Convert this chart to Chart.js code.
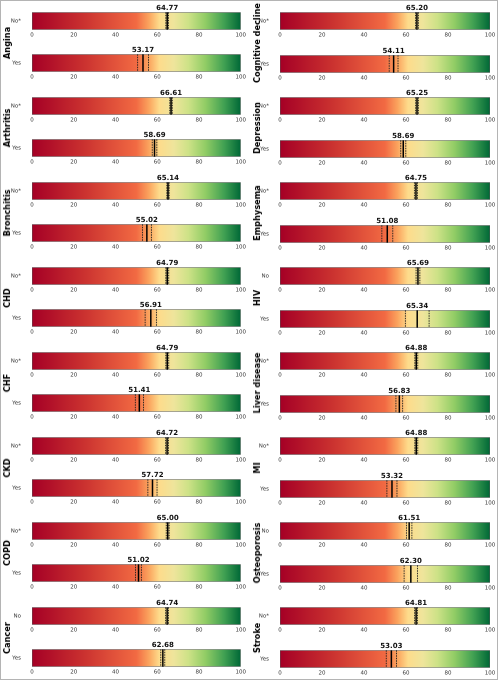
<!DOCTYPE html>
<html>
<head>
<meta charset="utf-8">
<script src="https://cdn.jsdelivr.net/npm/chart.js@4.4.0/dist/chart.umd.min.js"></script>
<style>
  body { margin: 0; background: #fff; }
  #fig { position: relative; width: 498px; height: 680px; overflow: hidden; }
  #fig canvas { position: absolute; }
  .cond { position: absolute; font: bold 8.2px "DejaVu Sans", sans-serif; color: #000; white-space: nowrap;
          transform: translate(-50%, -50%) rotate(-90deg); }
  #frame { position: absolute; left: 0; top: 0; width: 496px; height: 678px; border: 1px solid #b4b4b4; }
</style>
</head>
<body>
<div id="fig"><div id="frame"></div></div>
<script>
// Data
const conditions = ['Angina', 'Arthritis', 'Bronchitis', 'CHD', 'CHF', 'CKD', 'COPD', 'Cancer',
  'Cognitive decline', 'Depression', 'Emphysema', 'HIV', 'Liver disease', 'MI', 'Osteoporosis', 'Stroke'];
const noLabels = ['No*', 'No*', 'No*', 'No*', 'No*', 'No*', 'No*', 'No',
  'No*', 'No*', 'No*', 'No', 'No*', 'No*', 'No', 'No*'];
const yesLabel = 'Yes';
const noMean = [64.77, 66.61, 65.14, 64.79, 64.79, 64.72, 65.00, 64.74, 65.20, 65.25, 64.75, 65.69, 64.88, 64.88, 61.51, 64.81];
const noLow  = [64.1, 66.0, 64.6, 64.1, 64.1, 64.0, 64.3, 64.0, 64.5, 64.6, 64.0, 64.8, 64.2, 64.2, 60.2, 64.1];
const noHigh = [65.4, 67.2, 65.7, 65.5, 65.5, 65.4, 65.7, 65.4, 65.9, 65.9, 65.5, 66.6, 65.6, 65.6, 62.8, 65.5];
const yesMean = [53.17, 58.69, 55.02, 56.91, 51.41, 57.72, 51.02, 62.68, 54.11, 58.69, 51.08, 65.34, 56.83, 53.32, 62.30, 53.03];
const yesLow  = [50.6, 57.6, 52.9, 54.2, 49.5, 55.5, 49.6, 61.7, 52.0, 57.5, 48.5, 59.7, 55.2, 50.9, 59.1, 50.6];
const yesHigh = [55.8, 59.8, 57.2, 59.6, 53.4, 59.9, 52.4, 63.6, 56.2, 59.9, 53.7, 71.0, 58.4, 55.7, 65.5, 55.5];
const xMin = 0, xMax = 100, xStep = 20;

// colour ramp (red -> yellow -> green)
const ramp = [
  [0, '#a50026'], [0.25, '#cb3230'], [0.5, '#f26a43'], [0.56, '#fba45e'], [0.61, '#fedc8c'],
  [0.68, '#efe59c'], [0.75, '#cde287'], [0.83, '#92cd66'], [0.92, '#41a153'], [1, '#006837']
];

const fig = document.getElementById('fig');

// mean line, CI lines and value text
const markers = {
  id: 'markers',
  afterDatasetsDraw(chart, args, opts) {
    const {ctx, chartArea: {top, bottom}, scales: {x}} = chart;
    ctx.save();
    ctx.strokeStyle = '#1e1e1e';
    ctx.lineWidth = 0.9;
    ctx.setLineDash([1.5, 1]);
    [opts.low, opts.high].forEach(v => {
      const px = x.getPixelForValue(v);
      ctx.beginPath(); ctx.moveTo(px, top); ctx.lineTo(px, bottom); ctx.stroke();
    });
    ctx.setLineDash([]);
    ctx.strokeStyle = '#000';
    ctx.lineWidth = 1.5;
    const m = x.getPixelForValue(opts.mean);
    ctx.beginPath(); ctx.moveTo(m, top); ctx.lineTo(m, bottom); ctx.stroke();
    ctx.fillStyle = '#111';
    ctx.font = 'bold 7px "DejaVu Sans"';
    ctx.textAlign = 'center';
    ctx.textBaseline = 'bottom';
    ctx.fillText(opts.mean.toFixed(2), m, top - 0.5);
    ctx.restore();
  }
};

function gradientFill(c) {
  const chart = c.chart;
  if (!chart.chartArea) return '#f26a43';
  const x = chart.scales.x;
  const g = chart.ctx.createLinearGradient(x.getPixelForValue(xMin), 0, x.getPixelForValue(xMax), 0);
  ramp.forEach(([p, col]) => g.addColorStop(p, col));
  return g;
}

function makeBar(left, top, width, padRight, label, mean, low, high) {
  const cv = document.createElement('canvas');
  cv.width = width; cv.height = 46;
  cv.style.left = left + 'px'; cv.style.top = top + 'px';
  fig.appendChild(cv);
  new Chart(cv, {
    type: 'bar',
    data: {
      labels: [label],
      datasets: [{
        data: [[xMin, xMax]],
        backgroundColor: gradientFill,
        borderColor: '#555',
        borderWidth: 0.8,
        borderSkipped: false,
        barPercentage: 1,
        categoryPercentage: 1
      }]
    },
    options: {
      indexAxis: 'y',
      responsive: false,
      animation: false,
      devicePixelRatio: 2,
      layout: { padding: { top: 12, right: padRight, left: 0, bottom: 0 } },
      plugins: {
        legend: { display: false },
        tooltip: { enabled: false },
        markers: { mean: mean, low: low, high: high }
      },
      scales: {
        x: {
          min: xMin, max: xMax,
          grid: { display: false, drawTicks: false },
          border: { display: false },
          ticks: { stepSize: xStep, font: { size: 5.5, family: 'DejaVu Sans' }, color: '#333', padding: 2, maxRotation: 0, autoSkip: false },
          afterFit(s) { s.height = 10; }
        },
        y: {
          grid: { display: false, drawTicks: false },
          border: { display: false },
          ticks: { font: { size: 5.5, family: 'DejaVu Sans' }, color: '#333', padding: 11 },
          afterFit(s) { s.width = 32; }
        }
      }
    },
    plugins: [markers]
  });
}

conditions.forEach((name, i) => {
  const col = i < 8 ? 0 : 1;
  const row = i % 8;
  const noTop = (col ? 10 : 9.5) + 85 * row;
  const yesTop = noTop + 42.5;
  const left = col ? 248 : 0;
  const width = col ? 250 : 248;
  const padRight = col ? 8 : 6;
  makeBar(left, Math.round(noTop - 12), width, padRight, noLabels[i], noMean[i], noLow[i], noHigh[i]);
  makeBar(left, Math.round(yesTop - 12), width, padRight, yesLabel, yesMean[i], yesLow[i], yesHigh[i]);

  const lab = document.createElement('div');
  lab.className = 'cond';
  lab.textContent = name;
  lab.style.left = (col ? 257 : 7) + 'px';
  lab.style.top = (noTop + 33) + 'px';
  fig.appendChild(lab);
});
</script>
</body>
</html>
